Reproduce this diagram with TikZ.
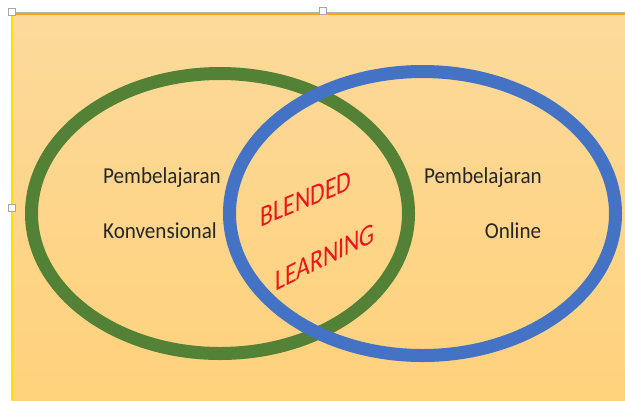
\documentclass[tikz,border=0pt]{standalone}
\usepackage{fontspec}
\setmainfont{Carlito}
\usepackage{tikz}
\usetikzlibrary{positioning}
\usepackage{xcolor}
\definecolor{bgtop}{HTML}{FDDA9B}
\definecolor{bgbot}{HTML}{FED17B}
\definecolor{ringgreen}{HTML}{538135}
\definecolor{ringblue}{HTML}{4472C4}
\definecolor{blendred}{HTML}{EE1518}

\begin{document}
\begin{tikzpicture}[x=0.02cm,y=-0.02cm,line cap=round,
  ring/.style={line width=7.4pt},
  label/.style={font=\fontsize{12}{14}\selectfont,text=black!85,inner sep=0pt,yscale=1.08},
  blend/.style={font=\fontsize{13.5}{16}\selectfont,text=blendred,inner sep=0pt,yscale=1.25},
  handle/.style={draw=gray!70,fill=white,line width=0.6pt,minimum size=4pt,inner sep=0pt}]
\useasboundingbox (0,0) rectangle (625,400);
\fill[white] (0,0) rectangle (625,400);
% background panel
\shade[top color=bgtop,bottom color=bgbot] (12,13) rectangle (625,400);
\draw[orange!70!yellow,line width=1pt] (12,14) -- (625,14);
\draw[gray!60,line width=0.8pt] (12,12.5) -- (625,12.5);
\draw[yellow!80!orange,line width=0.8pt] (12,13) -- (12,400);
% the two rings, blue lies on top
\draw[ringgreen,ring] (220,213.5) ellipse [x radius=188.5,y radius=140];
\draw[ringblue,ring] (422.5,213.5) ellipse [x radius=193,y radius=142];
% texts
\node[label] (leftA) at (162,178) {Pembelajaran};
\node[label] (leftB) at (160,231) {Konvensional};
\node[label] (rightA) at (483,178) {Pembelajaran};
\node[label] (rightB) at (513,231) {Online};
\node[blend,yslant=0.33] (blendA) at (306,199) {BLENDED};
\node[blend,yslant=0.40] (blendB) at (325,257) {LEARNING};
% selection handles
\node[handle] (hTL) at (12,12) {};
\node[handle] (hT) at (323,11) {};
\node[handle] (hL) at (12,208) {};
\end{tikzpicture}
\end{document}
